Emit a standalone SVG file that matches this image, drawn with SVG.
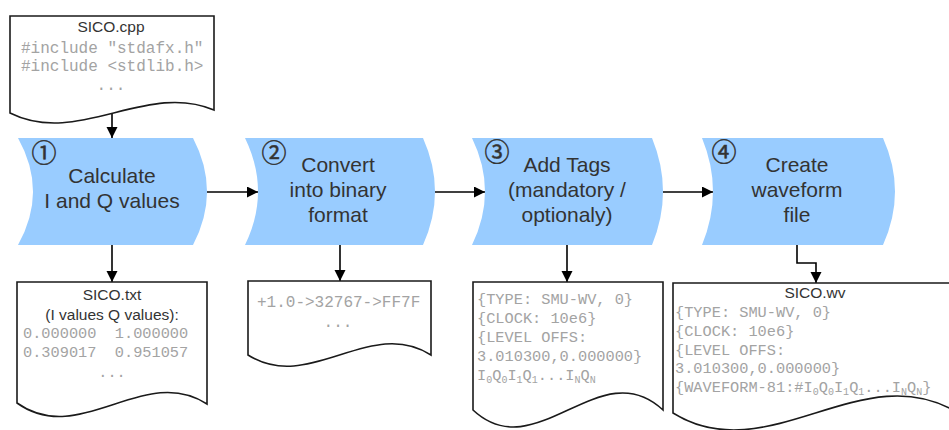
<svg xmlns="http://www.w3.org/2000/svg" width="949" height="430" viewBox="0 0 949 430">
<defs>
<marker id="ah" markerUnits="userSpaceOnUse" markerWidth="12" markerHeight="12" refX="11" refY="5.5" orient="auto">
<path d="M0,0 L11,5.5 L0,11 Z" fill="#000"/>
</marker>
<style>
.proc{fill:#99CCFF;stroke:none}
.doc{fill:#fff;stroke:#1a1a1a;stroke-width:1.6}
.pt{font-family:"Liberation Sans",Arial,sans-serif;font-size:21px;fill:#333;text-anchor:middle}
.num{font-family:"Noto Sans CJK SC","DejaVu Sans",sans-serif;font-size:25px;fill:#333;stroke:#333;stroke-width:0.5;text-anchor:middle}
.dh{font-family:"Liberation Sans",Arial,sans-serif;font-size:15.5px;fill:#333;text-anchor:middle}
.mono{font-family:"Liberation Mono","Courier New",monospace;font-size:16px;fill:#a3a3a3}
.mono2{font-family:"Liberation Mono","Courier New",monospace;font-size:15.3px;fill:#a3a3a3}
.sb{font-size:10px}
.mid{text-anchor:middle}
.con{fill:none;stroke:#000;stroke-width:1.6}
</style>
</defs>

<g id="connectors">
<path class="con" d="M112,114 V138" marker-end="url(#ah)"/>
<path class="con" d="M207,192 H258" marker-end="url(#ah)"/>
<path class="con" d="M435,192 H485" marker-end="url(#ah)"/>
<path class="con" d="M663,192 H713" marker-end="url(#ah)"/>
<path class="con" d="M112,245 V282" marker-end="url(#ah)"/>
<path class="con" d="M340,245 V281" marker-end="url(#ah)"/>
<path class="con" d="M567,245 V282" marker-end="url(#ah)"/>
<path class="con" d="M797,245 V263 H816 V283" marker-end="url(#ah)"/>
</g>

<g id="doc-sico-cpp">
<path class="doc" d="M10,16 H214 V110 C146,81 78,147 10,113 Z"/>
<text class="dh" x="111" y="32">SICO.cpp</text>
<text class="mono" x="21" y="53">#include "stdafx.h"</text>
<text class="mono" x="21" y="71">#include &lt;stdlib.h&gt;</text>
<text class="mono mid" x="111" y="90">...</text>
</g>

<g id="step1">
<path class="proc" d="M18,138 H193 Q221,191.5 193,245 H18 Q48,191.5 18,138 Z"/>
<text class="num" x="44" y="161.5">①</text>
<text class="pt" x="112" y="183">Calculate</text>
<text class="pt" x="112" y="208">I and Q values</text>
</g>

<g id="step2">
<path class="proc" d="M245,138 H423 Q447,191.5 423,245 H245 Q271,191.5 245,138 Z"/>
<text class="num" x="274" y="161.5">②</text>
<text class="pt" x="338" y="172">Convert</text>
<text class="pt" x="338" y="197">into binary</text>
<text class="pt" x="338" y="222">format</text>
</g>

<g id="step3">
<path class="proc" d="M472,138 H652 Q674,191.5 652,245 H472 Q498,191.5 472,138 Z"/>
<text class="num" x="497" y="160.5">③</text>
<text class="pt" x="567" y="172">Add Tags</text>
<text class="pt" x="567" y="197">(mandatory /</text>
<text class="pt" x="567" y="222">optionaly)</text>
</g>

<g id="step4">
<path class="proc" d="M702,138 H883 Q907,191.5 883,245 H702 Q724,191.5 702,138 Z"/>
<text class="num" x="724" y="160.5">④</text>
<text class="pt" x="797" y="172">Create</text>
<text class="pt" x="797" y="197">waveform</text>
<text class="pt" x="797" y="222">file</text>
</g>

<g id="doc-sico-txt">
<path class="doc" d="M17,282 H207 V404 C144,363 80,448 17,403 Z"/>
<text class="dh" x="112" y="300">SICO.txt</text>
<text class="dh" x="112" y="320">(I values Q values):</text>
<text class="mono2" x="23" y="338" xml:space="preserve">0.000000  1.000000</text>
<text class="mono2" x="23" y="357" xml:space="preserve">0.309017  0.951057</text>
<text class="mono2 mid" x="112" y="377">...</text>
</g>

<g id="doc-binary">
<path class="doc" d="M248,281 H431 V355 C370,316 309,394 248,355 Z"/>
<text class="mono" x="257" y="307">+1.0-&gt;32767-&gt;FF7F</text>
<text class="mono mid" x="338" y="327">...</text>
</g>

<g id="doc-tags">
<path class="doc" d="M473,282 H663 V410 C600,351 536,469 473,410 Z"/>
<text class="mono2" x="477" y="304">{TYPE: SMU-WV, 0}</text>
<text class="mono2" x="477" y="323">{CLOCK: 10e6}</text>
<text class="mono2" x="477" y="342">{LEVEL OFFS:</text>
<text class="mono2" x="477" y="361">3.010300,0.000000}</text>
<text class="mono2" x="477" y="380">I<tspan class="sb" dy="3">0</tspan><tspan dy="-3">Q</tspan><tspan class="sb" dy="3">0</tspan><tspan dy="-3">I</tspan><tspan class="sb" dy="3">1</tspan><tspan dy="-3">Q</tspan><tspan class="sb" dy="3">1</tspan><tspan dy="-3">...I</tspan><tspan class="sb" dy="3">N</tspan><tspan dy="-3">Q</tspan><tspan class="sb" dy="3">N</tspan></text>
</g>

<g id="doc-sico-wv">
<path class="doc" d="M673,283 H958 V413 C863,354 768,472 673,413 Z"/>
<text class="dh" x="815" y="298">SICO.wv</text>
<text class="mono2" x="675" y="317">{TYPE: SMU-WV, 0}</text>
<text class="mono2" x="675" y="336">{CLOCK: 10e6}</text>
<text class="mono2" x="675" y="355">{LEVEL OFFS:</text>
<text class="mono2" x="675" y="373">3.010300,0.000000}</text>
<text class="mono2" x="675" y="392">{WAVEFORM-81:#I<tspan class="sb" dy="3">0</tspan><tspan dy="-3">Q</tspan><tspan class="sb" dy="3">0</tspan><tspan dy="-3">I</tspan><tspan class="sb" dy="3">1</tspan><tspan dy="-3">Q</tspan><tspan class="sb" dy="3">1</tspan><tspan dy="-3">...I</tspan><tspan class="sb" dy="3">N</tspan><tspan dy="-3">Q</tspan><tspan class="sb" dy="3">N</tspan><tspan dy="-3">}</tspan></text>
</g>
</svg>
